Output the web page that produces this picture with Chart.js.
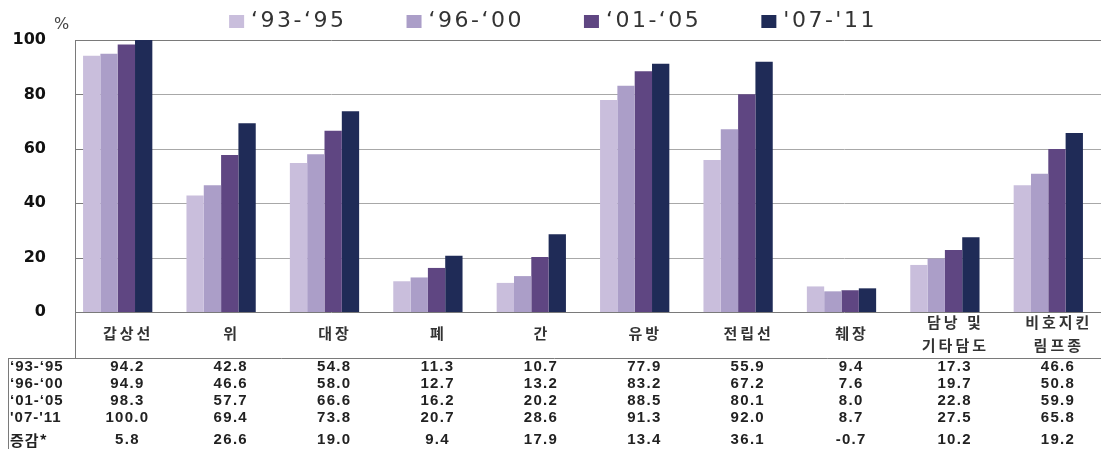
<!DOCTYPE html>
<html lang="ko">
<head>
<meta charset="utf-8">
<title>암종별 5년 상대생존율</title>
<script src="https://cdn.jsdelivr.net/npm/chart.js@4/dist/chart.umd.min.js"></script>
<style>
    html, body { margin: 0; padding: 0; background: #fff; overflow: hidden; }
    #wrap { position: relative; width: 1101px; height: 449px; }
</style>
</head>
<body>
<div id="wrap"><canvas id="chart"></canvas></div>
<script>
// categories (multi-line ones as arrays)
const categories = ['갑상선', '위', '대장', '폐', '간', '유방', '전립선', '췌장', ['담낭 및', '기타담도'], ['비호지킨', '림프종']];
const periods = ['\u201893-\u201895', '\u201896-\u201800', '\u201801-\u201805', '\'07-\'11'];
const rowLabels = ['\u201893-\u201895', '\u201896-\u201800', '\u201801-\u201805', '\'07-\'11', '증감*'];

const s9395 = [94.2, 42.8, 54.8, 11.3, 10.7, 77.9, 55.9, 9.4, 17.3, 46.6];
const s9600 = [94.9, 46.6, 58.0, 12.7, 13.2, 83.2, 67.2, 7.6, 19.7, 50.8];
const s0105 = [98.3, 57.7, 66.6, 16.2, 20.2, 88.5, 80.1, 8.0, 22.8, 59.9];
const s0711 = [100.0, 69.4, 73.8, 20.7, 28.6, 91.3, 92.0, 8.7, 27.5, 65.8];
const change = [5.8, 26.6, 19.0, 9.4, 17.9, 13.4, 36.1, -0.7, 10.2, 19.2];

const yTicks = [0, 20, 40, 60, 80, 100];

const colors = ['#c9bedc', '#ab9ec8', '#5f4682', '#1f2b57'];

const KR = '"Noto Sans CJK KR", "Noto Sans", sans-serif';
const TABLE_LEFT = 75;

const tablePlugin = {
    id: 'tablePlugin',
    beforeDatasetsDraw(chart) {
        const { ctx, scales: { y } } = chart;
        ctx.save();
        ctx.lineWidth = 1;
        yTicks.forEach(v => {
            const py = Math.round(y.getPixelForValue(v)) + 0.5;
            ctx.strokeStyle = (v === 0 || v === 100) ? '#7a7a7a' : '#a8a8a8';
            ctx.beginPath();
            ctx.moveTo(TABLE_LEFT, py);
            ctx.lineTo(chart.width, py);
            ctx.stroke();
            // little tick marks
            ctx.strokeStyle = '#7a7a7a';
            ctx.beginPath();
            ctx.moveTo(TABLE_LEFT, py);
            ctx.lineTo(TABLE_LEFT + 9, py);
            ctx.stroke();
        });
        ctx.restore();
    },
    afterDraw(chart) {
        const { ctx, scales: { x, y } } = chart;
        const shift = TABLE_LEFT - chart.chartArea.left;
        const colX = i => x.getPixelForValue(i) + shift;
        ctx.save();

        // frame lines of the table
        ctx.strokeStyle = '#7a7a7a';
        ctx.lineWidth = 1;
        ctx.beginPath();
        ctx.moveTo(TABLE_LEFT + 0.5, y.getPixelForValue(100));
        ctx.lineTo(TABLE_LEFT + 0.5, 358);
        ctx.moveTo(8, 358.5);
        ctx.lineTo(chart.width, 358.5);
        ctx.moveTo(8.5, 358);
        ctx.lineTo(8.5, 449);
        ctx.stroke();

        // % unit
        ctx.fillStyle = '#444';
        ctx.font = '16px "DejaVu Sans", sans-serif';
        ctx.textAlign = 'left';
        ctx.textBaseline = 'middle';
        ctx.fillText('%', 54, 25);

        // legend
        ctx.font = '22px "DejaVu Sans", sans-serif';
        ctx.letterSpacing = '2.5px';
        const gap = 60;
        const widths = periods.map(p => 15 + 7 + ctx.measureText(p).width);
        const total = widths.reduce((a, b) => a + b, 0) + gap * (periods.length - 1);
        let lx = 553 - total / 2;
        periods.forEach((p, i) => {
            ctx.fillStyle = colors[i];
            ctx.fillRect(lx, 15, 15, 13);
            ctx.fillStyle = '#333';
            ctx.fillText(p, lx + 22, 21);
            lx += widths[i] + gap;
        });

        // category labels
        ctx.font = 'bold 15px ' + KR;
        ctx.letterSpacing = '3px';
        ctx.textAlign = 'center';
        ctx.fillStyle = '#333';
        categories.forEach((c, i) => {
            const cx = colX(i) + 1.5;
            if (Array.isArray(c)) {
                ctx.fillText(c[0], cx, 322);
                ctx.fillText(c[1], cx, 345);
            } else {
                ctx.fillText(c, cx, 333);
            }
        });

        // table values
        const rows = [s9395, s9600, s0105, s0711, change];
        const rowY = [367, 384, 401, 418, 440];
        ctx.font = 'bold 15px "Liberation Sans", Arial, sans-serif';
        ctx.letterSpacing = '1.3px';
        ctx.fillStyle = '#222';
        rows.forEach((row, r) => {
            row.forEach((v, i) => {
                ctx.fillText(v.toFixed(1), colX(i) + 0.7, rowY[r]);
            });
        });

        // row labels
        ctx.textAlign = 'left';
        ctx.letterSpacing = '1px';
        rowLabels.forEach((lab, r) => {
            ctx.font = r === 4 ? 'bold 15px ' + KR : 'bold 15px "Liberation Sans", Arial, sans-serif';
            ctx.fillText(lab, 10, rowY[r]);
        });
        ctx.restore();
    },
};

new Chart(document.getElementById('chart'), {
    type: 'bar',
    data: {
        labels: categories,
        datasets: [
            { label: periods[0], data: s9395, backgroundColor: colors[0] },
            { label: periods[1], data: s9600, backgroundColor: colors[1] },
            { label: periods[2], data: s0105, backgroundColor: colors[2] },
            { label: periods[3], data: s0711, backgroundColor: colors[3] },
        ],
    },
    options: {
        responsive: true,
        maintainAspectRatio: false,
        animation: false,
        layout: { padding: { top: 40, bottom: 137, left: 0, right: 1 } },
        datasets: { bar: { categoryPercentage: 0.67, barPercentage: 1.0 } },
        plugins: { legend: { display: false }, tooltip: { enabled: false } },
        scales: {
            x: {
                ticks: { display: false },
                grid: { display: false },
                border: { display: false },
                afterFit: s => { s.height = 0; },
            },
            y: {
                min: 0,
                max: 100,
                afterBuildTicks: s => { s.ticks = yTicks.map(v => ({ value: v })); },
                ticks: {
                    color: '#111',
                    padding: 20,
                    font: { family: '"DejaVu Sans", sans-serif', weight: 'bold', size: 16 },
                },
                grid: { display: false, drawTicks: false },
                border: { display: false },
                afterFit: s => { s.width = 66; },
            },
        },
    },
    plugins: [tablePlugin],
});
</script>
</body>
</html>
